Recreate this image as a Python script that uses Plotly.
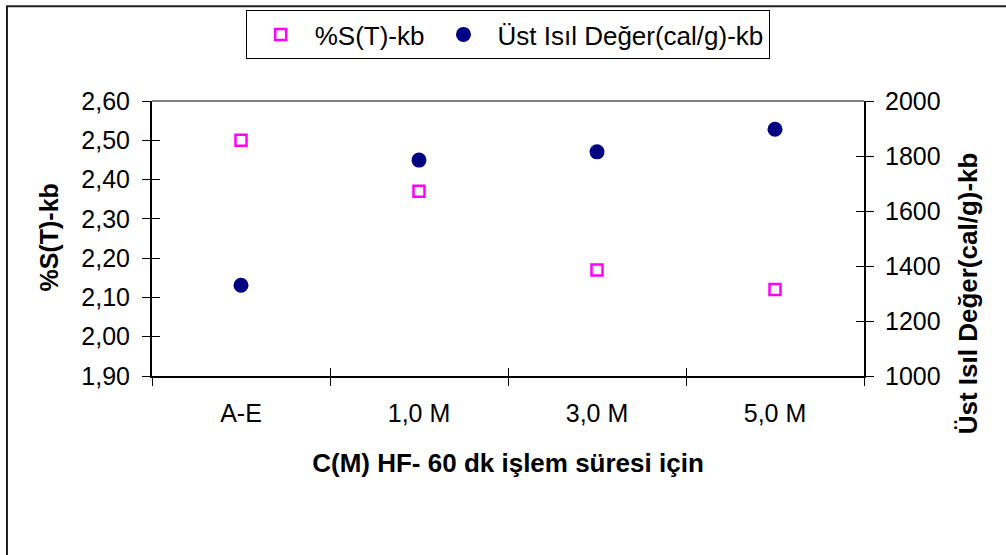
import plotly.graph_objects as go

categories = ["A-E", "1,0 M", "3,0 M", "5,0 M"]
sulfur = [2.50, 2.37, 2.17, 2.12]
heat = [1330, 1785, 1815, 1897]
left_ticks = [1.9, 2.0, 2.1, 2.2, 2.3, 2.4, 2.5, 2.6]
left_ticktext = ["1,90", "2,00", "2,10", "2,20", "2,30", "2,40", "2,50", "2,60"]
right_ticks = [1000, 1200, 1400, 1600, 1800, 2000]

FONT = "Liberation Sans, Arial, sans-serif"
FS = 25

fig = go.Figure()
fig.add_trace(go.Scatter(
    x=categories, y=sulfur, mode="markers", name="%S(T)-kb",
    marker=dict(symbol="square-open", size=11, color="#FF00FF", line=dict(width=2.5, color="#FF00FF")),
    xaxis="x", yaxis="y"))
fig.add_trace(go.Scatter(
    x=categories, y=heat, mode="markers", name="Üst Isıl Değer(cal/g)-kb",
    marker=dict(symbol="circle", size=15, color="#000080"),
    xaxis="x", yaxis="y2"))
# invisible helpers so overlay axes draw the inward half of the cross tick marks
fig.add_trace(go.Scatter(x=categories, y=[None] * 4, xaxis="x2", yaxis="y3",
                         showlegend=False, hoverinfo="skip"))
fig.add_trace(go.Scatter(x=categories, y=[None] * 4, xaxis="x2", yaxis="y4",
                         showlegend=False, hoverinfo="skip"))

axis_font = dict(family=FONT, size=FS, color="black")

fig.update_layout(
    width=1006, height=555,
    margin=dict(l=152, r=142, t=100, b=179),
    paper_bgcolor="white", plot_bgcolor="white",
    font=dict(family=FONT, size=FS, color="black"),
    showlegend=True,
    legend=dict(
        orientation="h", x=0.1316, y=1.326, xanchor="left", yanchor="top",
        bordercolor="black", borderwidth=1, bgcolor="white", itemwidth=58,
        font=dict(family=FONT, size=26, color="black"),
    ),
    xaxis=dict(
        type="category", categoryorder="array", categoryarray=categories,
        range=[-0.5, 3.5], tickson="boundaries", ticks="outside", ticklen=8,
        tickcolor="black", tickwidth=1, showline=True, linecolor="black", linewidth=2,
        showgrid=False, zeroline=False, tickfont=axis_font, ticklabelstandoff=14,
        title=dict(text="<b>C(M) HF- 60 dk işlem süresi için</b>",
                   font=dict(family=FONT, size=26, color="black"), standoff=28),
    ),
    xaxis2=dict(
        type="category", categoryorder="array", categoryarray=categories,
        range=[-0.5, 3.5], tickson="boundaries", ticks="inside", ticklen=8,
        tickcolor="black", tickwidth=1, overlaying="x", anchor="y3",
        showticklabels=False, showline=False, showgrid=False, zeroline=False,
    ),
    yaxis=dict(
        range=[1.9, 2.6], tickvals=left_ticks, ticktext=left_ticktext,
        ticks="outside", ticklen=8, tickcolor="black", tickwidth=1,
        showline=True, linecolor="black", linewidth=2, showgrid=False, zeroline=False,
        tickfont=axis_font, ticklabelstandoff=7,
    ),
    yaxis2=dict(
        range=[1000, 2000], tickvals=right_ticks, overlaying="y", side="right",
        ticks="outside", ticklen=8, tickcolor="black", tickwidth=1,
        showline=True, linecolor="black", linewidth=2, showgrid=False, zeroline=False,
        tickfont=axis_font, ticklabelstandoff=6, anchor="x",
    ),
    yaxis3=dict(
        range=[1.9, 2.6], tickvals=left_ticks, overlaying="y", side="left", anchor="x",
        ticks="inside", ticklen=8, tickcolor="black", tickwidth=1,
        showticklabels=False, showline=False, showgrid=False, zeroline=False,
    ),
    yaxis4=dict(
        range=[1000, 2000], tickvals=right_ticks, overlaying="y", side="right", anchor="x",
        ticks="inside", ticklen=8, tickcolor="black", tickwidth=1,
        showticklabels=False, showline=False, showgrid=False, zeroline=False,
    ),
    annotations=[
        dict(text="<b>%S(T)-kb</b>", textangle=-90, xref="paper", yref="paper",
             x=(49 - 152) / 712, y=(376 - 237) / 276, xanchor="center", yanchor="middle",
             showarrow=False, font=dict(family=FONT, size=FS, color="black")),
        dict(text="<b>Üst Isıl Değer(cal/g)-kb</b>", textangle=-90, xref="paper", yref="paper",
             x=(968 - 152) / 712, y=(376 - 293) / 276, xanchor="center", yanchor="middle",
             showarrow=False, font=dict(family=FONT, size=26, color="black")),
    ],
    shapes=[
        dict(type="line", xref="paper", yref="paper", x0=0, x1=1, y0=1, y1=1,
             line=dict(color="#808080", width=2)),
        dict(type="rect", xref="paper", yref="paper",
             x0=(7 - 152) / 712, x1=(1012 - 152) / 712,
             y0=(376 - 562) / 276, y1=(376 - 5) / 276,
             line=dict(color="#222222", width=2), layer="below"),
    ],
)

fig.write_html("out.html")
